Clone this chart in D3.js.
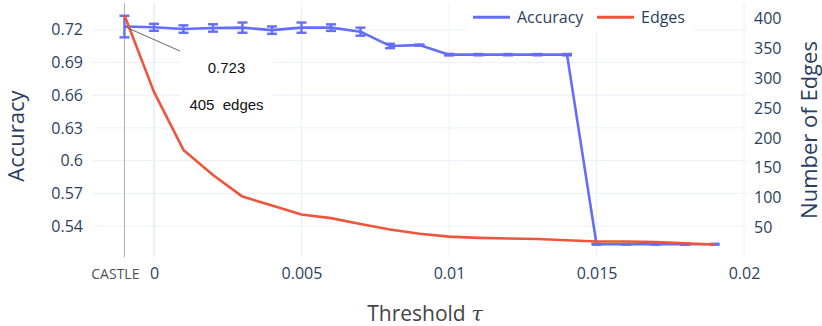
<!DOCTYPE html>
<html>
<head>
<meta charset="utf-8">
<script src="https://cdn.jsdelivr.net/npm/d3@7"></script>
<style>
  html, body { margin: 0; padding: 0; background: #fff; }
  svg { display: block; font-family: "Open Sans", sans-serif; }
</style>
</head>
<body>
<svg id="chart" width="822" height="326"></svg>
<script>
// Threshold sweep: accuracy (left axis) and number of edges (right axis)
const thresholds = [0, 0.001, 0.002, 0.003, 0.004, 0.005, 0.006, 0.007, 0.008, 0.009,
                    0.01, 0.011, 0.012, 0.013, 0.014, 0.015, 0.016, 0.017, 0.018, 0.019];
const accuracy = [0.7223, 0.7207, 0.7217, 0.722, 0.7197, 0.722, 0.722, 0.7183, 0.7052, 0.706,
                  0.6972, 0.6972, 0.6972, 0.6972, 0.6972, 0.5233, 0.5233, 0.5233, 0.5233, 0.5233];
const accuracyErr = [0.0032, 0.0034, 0.0034, 0.0047, 0.0034, 0.0047, 0.003, 0.0037, 0.002, 0.0005,
                     0.0007, 0.0006, 0.0006, 0.0006, 0.0006, 0.0004, 0.0004, 0.0004, 0.0004, 0.0004];
const edges = [277, 180, 138, 102, 87, 72, 66, 56, 47, 40,
               35, 33, 32, 31, 29, 27, 27, 26, 24, 22];

// Baseline method shown left of the sweep
const castleLabel = "CASTLE";
const castleX = -0.001;
const castleAccuracy = 0.723;
const castleErr = 0.0099;
const castleEdges = 405;

const xTicks = [0, 0.005, 0.01, 0.015, 0.02];
const accTicks = [0.54, 0.57, 0.6, 0.63, 0.66, 0.69, 0.72];
const edgeTicks = [50, 100, 150, 200, 250, 300, 350, 400];

const seriesNames = ["Accuracy", "Edges"];
const colors = { acc: "#636efa", edges: "#EF553B" };
const gridColor = "#ebf0f8";
const tickColor = "#2a3f5f";

const plot = { left: 92, right: 747, top: 3, bottom: 257 };

const svg = d3.select("#chart");

const x = d3.scaleLinear().domain([-0.0021, 0.0201]).range([plot.left, plot.right]);
const yAcc = d3.scaleLinear().domain([0.5116, 0.7446]).range([plot.bottom, plot.top]);
const yEdges = d3.scaleLinear().domain([1.0, 425.6]).range([plot.bottom, plot.top]);

// Grid
const grid = svg.append("g");
grid.selectAll("line.h").data(accTicks).join("line")
  .attr("x1", plot.left).attr("x2", plot.right)
  .attr("y1", d => yAcc(d)).attr("y2", d => yAcc(d))
  .attr("stroke", gridColor).attr("stroke-width", 1);
grid.selectAll("line.v").data(xTicks).join("line")
  .attr("x1", d => x(d)).attr("x2", d => x(d))
  .attr("y1", plot.top).attr("y2", plot.bottom)
  .attr("stroke", gridColor).attr("stroke-width", d => d === 0 ? 2 : 1);

// Axes (labels only)
function styleAxis(g) {
  g.select(".domain").remove();
  g.selectAll(".tick line").remove();
  g.selectAll(".tick text").attr("fill", tickColor).style("font-size", "16px")
    .style("font-family", "'Open Sans', sans-serif");
}
svg.append("g").attr("transform", `translate(${plot.left},0)`)
  .call(d3.axisLeft(yAcc).tickValues(accTicks).tickSize(0).tickPadding(9).tickFormat(d3.format("~g")))
  .call(styleAxis);
svg.append("g").attr("transform", `translate(${plot.right},0)`)
  .call(d3.axisRight(yEdges).tickValues(edgeTicks).tickSize(0).tickPadding(7))
  .call(styleAxis);
svg.append("g").attr("transform", `translate(0,${plot.bottom})`)
  .call(d3.axisBottom(x).tickValues(xTicks).tickSize(0).tickPadding(11).tickFormat(d3.format("~g")))
  .call(styleAxis);

// Baseline marker line and label
svg.append("line")
  .attr("x1", x(castleX)).attr("x2", x(castleX))
  .attr("y1", plot.top).attr("y2", plot.bottom)
  .attr("stroke", "#b0b0b0").attr("stroke-width", 1);
svg.append("text")
  .attr("x", x(castleX) + 15).attr("y", 278.5)
  .attr("text-anchor", "end")
  .attr("fill", "#505050").style("font-size", "14px")
  .text(castleLabel);

// Series data including the baseline point
const accData = [{ t: castleX, v: castleAccuracy, e: castleErr }]
  .concat(thresholds.map((t, i) => ({ t, v: accuracy[i], e: accuracyErr[i] })));
const edgeData = [{ t: castleX, v: castleEdges }]
  .concat(thresholds.map((t, i) => ({ t, v: edges[i] })));

// Accuracy line
svg.append("path").datum(accData)
  .attr("fill", "none").attr("stroke", colors.acc).attr("stroke-width", 2.6)
  .attr("stroke-linejoin", "round")
  .attr("d", d3.line().x(d => x(d.t)).y(d => yAcc(d.v)));

// Error bars
const capHalf = 5;
const eb = svg.append("g").attr("stroke", colors.acc).attr("stroke-width", 2.4);
accData.forEach(d => {
  const cx = x(d.t), y1 = yAcc(d.v - d.e), y2 = yAcc(d.v + d.e);
  eb.append("line").attr("x1", cx).attr("x2", cx).attr("y1", y1).attr("y2", y2);
  eb.append("line").attr("x1", cx - capHalf).attr("x2", cx + capHalf).attr("y1", y1).attr("y2", y1);
  eb.append("line").attr("x1", cx - capHalf).attr("x2", cx + capHalf).attr("y1", y2).attr("y2", y2);
});

// Edges line
svg.append("path").datum(edgeData)
  .attr("fill", "none").attr("stroke", colors.edges).attr("stroke-width", 2.6)
  .attr("stroke-linejoin", "round")
  .attr("d", d3.line().x(d => x(d.t)).y(d => yEdges(d.v)));

// Annotation for the baseline point
const box = { x0: 180, x1: 273, y0: 51, y1: 119 };
svg.append("line")
  .attr("x1", x(castleX)).attr("y1", yAcc(castleAccuracy))
  .attr("x2", box.x0).attr("y2", box.y0)
  .attr("stroke", "#666").attr("stroke-width", 1);
svg.append("rect")
  .attr("x", box.x0).attr("y", box.y0)
  .attr("width", box.x1 - box.x0).attr("height", box.y1 - box.y0)
  .attr("fill", "#fff");
const annot = svg.append("g").style("font-family", "'Liberation Sans', Arial, sans-serif")
  .style("font-size", "15px").attr("fill", "#111").attr("text-anchor", "middle");
annot.append("text").attr("x", (box.x0 + box.x1) / 2).attr("y", 72.5)
  .text(d3.format(".3f")(castleAccuracy));
annot.append("text").attr("x", (box.x0 + box.x1) / 2).attr("y", 109.5)
  .attr("xml:space", "preserve").style("white-space", "pre")
  .text(`${castleEdges}  edges`);

// Legend
const legend = svg.append("g");
legend.append("rect").attr("x", 467).attr("y", 0).attr("width", 226).attr("height", 34).attr("fill", "#fff");
const items = [
  { name: seriesNames[0], color: colors.acc, x: 473 },
  { name: seriesNames[1], color: colors.edges, x: 597 }
];
items.forEach(it => {
  legend.append("line").attr("x1", it.x).attr("x2", it.x + 37).attr("y1", 17.3).attr("y2", 17.3)
    .attr("stroke", it.color).attr("stroke-width", 3);
  legend.append("text").attr("x", it.x + 44).attr("y", 22.8)
    .attr("fill", tickColor).style("font-size", "16px").text(it.name);
});

// Axis titles
svg.append("text")
  .attr("transform", `translate(24,136) rotate(-90)`)
  .attr("text-anchor", "middle").attr("fill", tickColor).style("font-size", "22px")
  .text("Accuracy");
svg.append("text")
  .attr("transform", `translate(817,130) rotate(-90)`)
  .attr("text-anchor", "middle").attr("fill", tickColor).style("font-size", "22px")
  .text("Number of Edges");
const xt = svg.append("text")
  .attr("x", 425).attr("y", 321)
  .attr("text-anchor", "middle").attr("fill", "#444").style("font-size", "21px");
xt.append("tspan").text("Threshold ");
xt.append("tspan").style("font-family", "'DejaVu Serif', serif").style("font-style", "italic").text("τ");
</script>
</body>
</html>
